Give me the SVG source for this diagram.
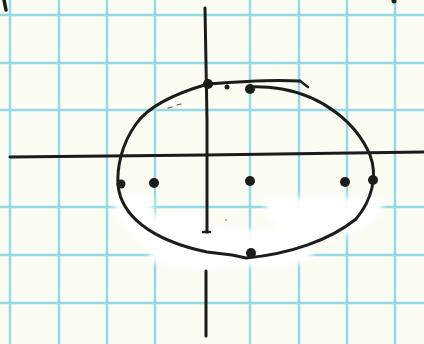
<svg xmlns="http://www.w3.org/2000/svg" width="424" height="344" viewBox="0 0 424 344">
<defs>
<style>
.grid{stroke:#93d9ea;stroke-width:2.5;fill:none}
.ink{stroke:#1c1c1a;stroke-width:3;fill:none;stroke-linecap:round;stroke-linejoin:round}
.dot{fill:#1c1c1a}
</style>
<filter id="soft" x="-20%" y="-20%" width="140%" height="140%"><feGaussianBlur stdDeviation="3"/></filter>
</defs>
<rect width="424" height="344" fill="#fbfcf2"/>
<g id="grid" class="grid">
<line x1="10" y1="0" x2="10" y2="344"/>
<line x1="59" y1="0" x2="59" y2="344"/>
<line x1="107" y1="0" x2="107" y2="344"/>
<line x1="155" y1="0" x2="155" y2="344"/>
<line x1="250" y1="0" x2="250" y2="344"/>
<line x1="299" y1="0" x2="299" y2="344"/>
<line x1="347" y1="0" x2="347" y2="344"/>
<line x1="395" y1="0" x2="395" y2="344"/>
<line x1="0" y1="15" x2="424" y2="15"/>
<line x1="0" y1="63" x2="424" y2="63"/>
<line x1="0" y1="110" x2="424" y2="110"/>
<line x1="0" y1="207" x2="424" y2="207"/>
<line x1="0" y1="255" x2="424" y2="255"/>
<line x1="0" y1="303" x2="424" y2="303"/>
</g>
<g id="whiteout" fill="#ffffff" filter="url(#soft)">
<path d="M 112,196 Q 118,248 200,268 L 300,264 Q 330,248 300,232 L 160,226 Q 150,212 152,196 Z"/>
<path d="M 266,198 L 382,197 L 382,214 Q 352,240 300,246 L 266,216 Z"/>
<path d="M 150,215 L 210,214 L 210,270 L 150,262 Z"/>
</g>
<g id="axes" class="ink">
<path d="M 10,157 L 205,155 L 424,152"/>
<path d="M 205,8 L 207,120 L 207,232"/>
<path d="M 203,232 L 210,232" stroke-width="2.5"/>
<path d="M 206,271 L 206,336"/>
</g>
<g id="ellipse" class="ink">
<path d="M 300,81 C 270,79 232,82 208,84 C 180,92 150,104 136,124 C 121,145 117,168 118,185 C 121,215 150,240 207,252 L 232,255 L 246,258 C 290,254 330,240 356,219 C 372,200 378,176 370,155 C 356,122 322,96 282,89 Q 262,86 250,87"/>
<path d="M 300,81 L 308,87" stroke-width="2.5"/>
</g>
<g id="points" class="dot">
<circle cx="208" cy="84" r="5"/>
<circle cx="227" cy="87" r="2.5"/>
<circle cx="250" cy="89" r="5"/>
<circle cx="121" cy="184" r="4.5"/>
<circle cx="154" cy="183" r="5"/>
<circle cx="250" cy="181" r="5"/>
<circle cx="345" cy="182" r="5"/>
<circle cx="373" cy="180" r="5"/>
<circle cx="251" cy="253" r="5"/>
</g>
<g id="marks" class="ink">
<path d="M 4,0 L 6,10" stroke-width="3.5"/>
<circle cx="394" cy="1" r="2.5" class="dot" stroke="none"/>
<path d="M 168,108 L 172,107 M 177,105 L 181,104" stroke-width="1.2" stroke="#555"/>
<circle cx="226" cy="220" r="1" fill="#999" stroke="none"/>
</g>
</svg>
